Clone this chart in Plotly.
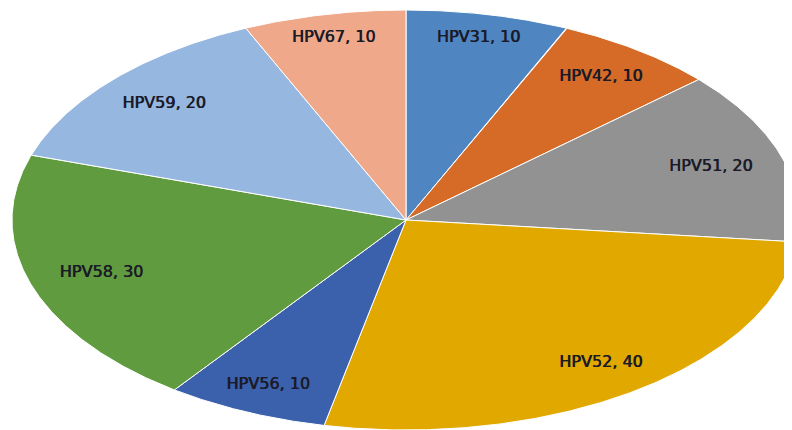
import numpy as np
import plotly.graph_objects as go

# Data
labels = ["HPV31", "HPV42", "HPV51", "HPV52", "HPV56", "HPV58", "HPV59", "HPV67"]
values = [10, 10, 20, 40, 10, 30, 20, 10]
colors = ["#4f86c1", "#d56b27", "#929292", "#e1a900", "#3c61ac", "#619b3f", "#95b7e0", "#efa88a"]

# page body has an 8px margin, so the figure is drawn from (8, 8)
W, H = 784, 422
CX, CY = 398, 212      # pie centre in figure pixels
RX, RY = 394, 210      # ellipse radii in pixels
BOX_W, BOX_H = 112, 16 # label box used for "inside end" placement
INSET = 0.96           # farthest label corner sits at this fraction of the ellipse

total = sum(values)
fig = go.Figure()


def label_pos(tm):
    dx, dy = RX * np.sin(tm), RY * np.cos(tm)
    lo, hi = 0.0, 1.0
    for _ in range(50):
        s = (lo + hi) / 2
        px, py = s * dx, s * dy
        m = max(np.hypot((px + sx * BOX_W / 2) / RX, (py + sy * BOX_H / 2) / RY)
                for sx in (-1, 1) for sy in (-1, 1))
        if m > INSET:
            hi = s
        else:
            lo = s
    return lo * dx / RX, lo * dy / RY


start = 0.0
lx, ly, ltxt = [], [], []
for lab, val, col in zip(labels, values, colors):
    frac = val / total
    t0 = start * 2 * np.pi
    t1 = (start + frac) * 2 * np.pi
    th = np.linspace(t0, t1, 200)
    xs = np.concatenate([[0], np.sin(th), [0]])
    ys = np.concatenate([[0], np.cos(th), [0]])
    fig.add_trace(go.Scatter(
        x=xs, y=ys, mode="lines", fill="toself", fillcolor=col,
        line=dict(color="white", width=1), hoverinfo="skip", showlegend=False,
    ))
    px, py = label_pos((start + frac / 2) * 2 * np.pi)
    lx.append(px)
    ly.append(py)
    ltxt.append(f"{lab}, {val}")
    start += frac

fig.add_trace(go.Scatter(
    x=lx, y=ly, mode="text", text=ltxt, textposition="middle center",
    textfont=dict(family="DejaVu Sans", size=16, color="#1a1a28",
                  shadow="0.7px 0px 0px #1a1a28"),
    hoverinfo="skip", showlegend=False,
))

fig.update_layout(
    width=W, height=H,
    margin=dict(l=0, r=0, t=0, b=0),
    paper_bgcolor="white", plot_bgcolor="white",
    xaxis=dict(range=[-CX / RX, (W - CX) / RX], visible=False, fixedrange=True),
    yaxis=dict(range=[-(H - CY) / RY, CY / RY], visible=False, fixedrange=True),
)

fig.write_html("out.html")
